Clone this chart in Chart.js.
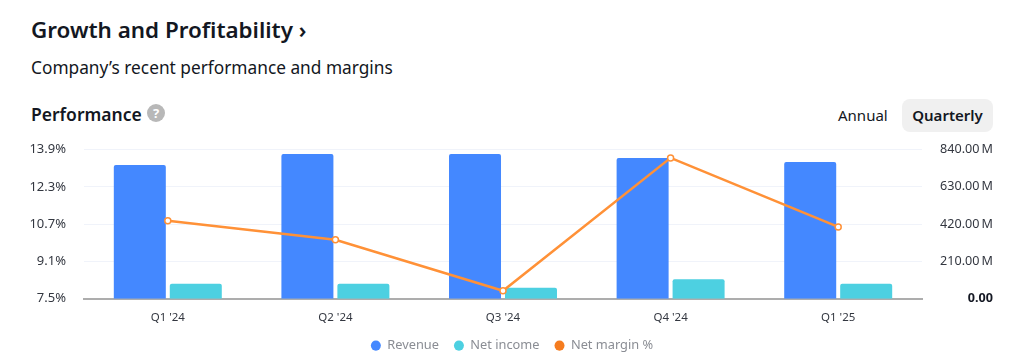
<!DOCTYPE html>
<html lang="en">
<head>
<meta charset="UTF-8">
<title>Growth and Profitability</title>
<script src="https://cdn.jsdelivr.net/npm/chart.js"></script>
<style>
  html, body { margin: 0; padding: 0; background: #fff; }
  body { width: 1024px; height: 363px; position: relative; overflow: hidden; font-family: "Noto Sans", sans-serif; color: #131722; }
  canvas { position: absolute; left: 0; top: 0; }
  .txt { position: absolute; white-space: nowrap; }
  #title { left: 31px; top: 14px; font-size: 22.4px; font-weight: 600; line-height: 32px; }
  #sub { left: 31px; top: 56px; font-size: 17.3px; line-height: 24px; }
  #perf { left: 31px; top: 102px; font-size: 17.5px; font-weight: 600; line-height: 24px; }
  #help { left: 147px; top: 104px; width: 18px; height: 18px; border-radius: 50%; background: #b8b8b8; color: #fff; font-size: 13px; font-weight: 700; line-height: 18px; text-align: center; }
  #annual { left: 838px; top: 104px; font-size: 15px; line-height: 22px; }
  #quarterly { left: 902px; top: 99px; width: 91px; height: 33px; border-radius: 8px; background: #f0f0f0; font-size: 15px; font-weight: 600; line-height: 33px; text-align: center; }
</style>
</head>
<body>
<div class="txt" id="title">Growth and Profitability ›</div>
<div class="txt" id="sub">Company’s recent performance and margins</div>
<div class="txt" id="perf">Performance</div>
<div class="txt" id="help">?</div>
<div class="txt" id="annual">Annual</div>
<div class="txt" id="quarterly">Quarterly</div>
<canvas id="grafico" width="1024" height="363"></canvas>
<script>
const categories = ["Q1 '24", "Q2 '24", "Q3 '24", "Q4 '24", "Q1 '25"];
const revenue = [753, 815, 815, 792, 770];
const netIncome = [84, 84, 62, 110, 84];
const netMargin = [10.84, 10.03, 7.84, 13.54, 10.58];
const marginTicks = [7.5, 9.1, 10.7, 12.3, 13.9];
const moneyTicks = [0, 210, 420, 630, 840];
const moneyLabels = ["0.00", "210.00\u2009M", "420.00\u2009M", "630.00\u2009M", "840.00\u2009M"];
const legendOrder = ['Revenue', 'Net income', 'Net margin %'];

const fonte = '"Noto Sans", sans-serif';

// legend is centred on the page, not on the padded chart box
const moveLegend = {
  id: 'moveLegend',
  afterLayout(chart) {
    const l = chart.legend;
    l.left += 15.5; l.right += 15.5;
    l.top -= 0.5; l.bottom -= 0.5;
  }
};

new Chart(document.getElementById('grafico'), {
  plugins: [moveLegend],
  data: {
    labels: categories,
    datasets: [
      { type: 'line', label: 'Net margin %', data: netMargin, yAxisID: 'yMargin', order: 0,
        borderColor: '#ff9137', borderWidth: 2.5, backgroundColor: '#f57c1f', tension: 0,
        pointBackgroundColor: '#fff', pointBorderColor: '#ff9137', pointBorderWidth: 1.5, pointRadius: 3 },
      { type: 'bar', label: 'Revenue', data: revenue, yAxisID: 'yMoney', order: 1,
        backgroundColor: '#4488ff', borderRadius: 2, borderSkipped: 'bottom' },
      { type: 'bar', label: 'Net income', data: netIncome, yAxisID: 'yMoney', order: 1,
        backgroundColor: '#4dd0e1', borderRadius: 2, borderSkipped: 'bottom' }
    ]
  },
  options: {
    responsive: false,
    animation: false,
    categoryPercentage: 0.668,
    barPercentage: 0.929,
    layout: { padding: { top: 149.5, right: 31, bottom: 0.5, left: 0 } },
    plugins: {
      tooltip: { enabled: false },
      legend: {
        position: 'bottom',
        labels: {
          usePointStyle: true, pointStyle: 'circle', pointStyleWidth: 10, boxHeight: 7.2, padding: 15,
          color: '#8a8d94', font: { family: fonte, size: 12.8 },
          sort: (a, b) => legendOrder.indexOf(a.text) - legendOrder.indexOf(b.text),
          generateLabels(chart) {
            return chart.data.datasets.map((d, i) => ({
              text: d.label, datasetIndex: i, fillStyle: d.backgroundColor, strokeStyle: d.backgroundColor,
              lineWidth: 0, pointStyle: 'circle', fontColor: '#8a8d94'
            }));
          }
        }
      }
    },
    scales: {
      x: {
        grid: { display: false },
        border: { color: '#adadad', width: 2 },
        ticks: { color: '#333740', font: { family: fonte, size: 11.5 }, padding: 4, maxRotation: 0 },
        afterFit(axis) { axis.height = 26; }
      },
      yMargin: {
        position: 'left', min: 7.5, max: 13.9,
        afterBuildTicks(axis) { axis.ticks = marginTicks.map(v => ({ value: v })); },
        afterFit(axis) { axis.width = 84; },
        grid: { color: '#f0f3fa', drawTicks: false },
        border: { display: false },
        ticks: { color: '#333740', font: { family: fonte, size: 13 }, padding: 18, callback: v => v.toFixed(1) + '%' }
      },
      yMoney: {
        position: 'right', min: 0, max: 840,
        afterBuildTicks(axis) { axis.ticks = moneyTicks.map(v => ({ value: v })); },
        afterFit(axis) { axis.width = 71; },
        grid: { display: false, drawTicks: false },
        border: { display: false },
        ticks: {
          color: ctx => ctx.tick && ctx.tick.value === 0 ? '#131722' : '#333740',
          font: ctx => ({ family: fonte, size: 12.6, weight: ctx.tick && ctx.tick.value === 0 ? '700' : '400' }),
          crossAlign: 'far',
          callback: v => moneyLabels[moneyTicks.indexOf(v)]
        }
      }
    }
  }
});
</script>
</body>
</html>
